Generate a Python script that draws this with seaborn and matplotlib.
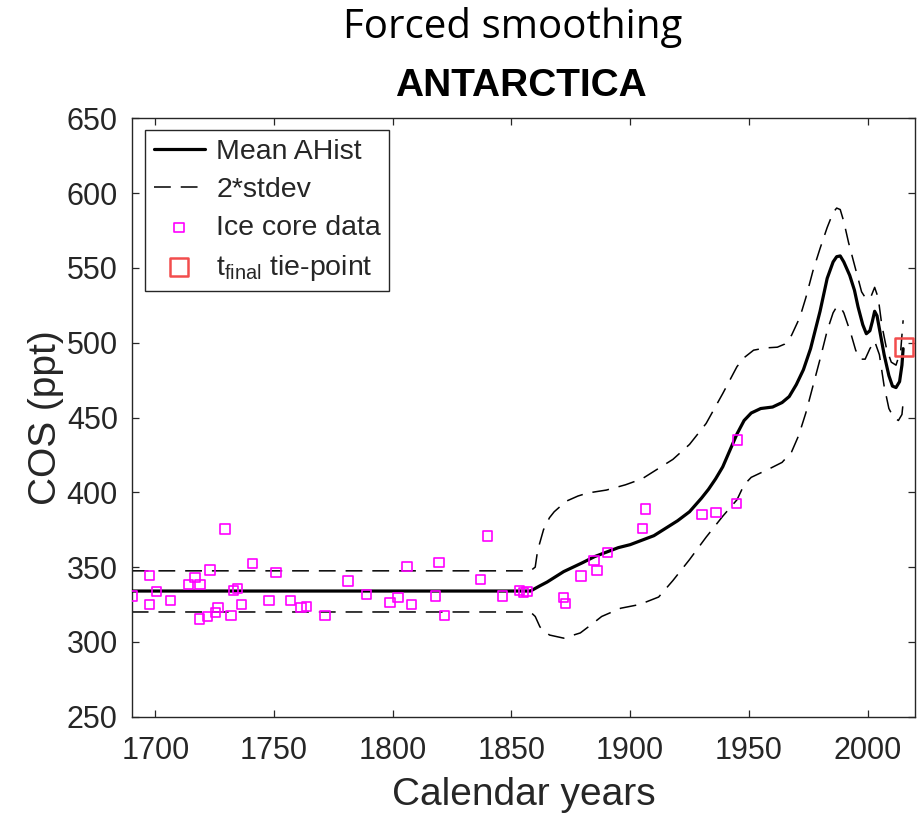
import numpy as np
import pandas as pd
import matplotlib
matplotlib.use("Agg")
import matplotlib.pyplot as plt
import seaborn as sns

# ---------------- data ----------------
mean_years = [1690, 1858, 1862, 1865, 1868, 1872, 1876, 1880, 1885, 1890, 1895,
              1900, 1905, 1910, 1915, 1920, 1925, 1930, 1933, 1936, 1939, 1942,
              1945, 1948, 1951, 1955, 1960, 1964, 1967, 1970, 1973, 1976, 1980,
              1983, 1985.5, 1987, 1988.5, 1990, 1992.5, 1994.5, 1996, 1998,
              1999.5, 2001, 2002, 2003, 2004, 2005.5, 2007, 2009, 2010.5, 2012,
              2013.5, 2014.5, 2015]
mean_vals = [334, 334, 337.5, 340, 343, 347, 350, 353, 357, 360, 363,
             365, 368, 371, 376, 381, 387, 396, 402, 409, 417, 428,
             439, 448, 453, 456, 457, 460, 464, 472, 482, 496, 521,
             543, 554, 557.5, 558, 554, 545, 535, 524, 512,
             506, 508, 514, 521, 518, 505, 492, 478, 471, 470,
             474, 485, 496]

upper_years = [1690, 1858, 1860, 1861, 1863.5, 1866, 1868, 1873, 1878, 1882, 1890,
               1898, 1905, 1911, 1918, 1925, 1932, 1939, 1942, 1945, 1948, 1952,
               1957, 1962, 1965, 1968, 1971.5, 1974, 1977, 1980, 1983, 1985.5,
               1987, 1988.5, 1990, 1992, 1995, 1997.5, 1999.5, 2001.5, 2003,
               2004.5, 2006, 2008, 2010, 2012, 2014, 2015]
upper_vals = [347.5, 347.5, 350, 361, 375, 383, 387, 394, 397.5, 399.5, 401.5,
              405, 409, 415, 422, 432, 446, 466, 475, 484, 490, 495,
              496.5, 497, 499, 505, 517, 530, 548, 563, 577, 587,
              590, 589, 581, 567, 549, 534, 529, 531, 537,
              530, 512, 496, 487, 485, 495, 515]

lower_years = [1690, 1858, 1860, 1862, 1866, 1872, 1879, 1884, 1888, 1896, 1904,
               1912, 1918, 1925, 1932, 1939, 1945, 1948, 1951, 1955, 1959, 1964,
               1968, 1971, 1974, 1977, 1980, 1983, 1985.5, 1987, 1988.5, 1990,
               1993, 1995, 1997, 1999, 2001, 2003, 2005, 2007, 2009, 2011, 2013,
               2014.5, 2015]
lower_vals = [320, 320, 317, 310, 304.6, 302.5, 306, 312, 317, 322.5, 325,
              330, 341, 355, 370, 384, 395, 405, 410, 413, 416, 420,
              427, 438, 453, 471, 489, 508, 520, 524, 524, 520,
              506, 495, 489, 489, 496, 501, 492, 471, 456, 450, 448,
              452, 460]

ice_years = [1690.4, 1697.4, 1697.4, 1700.5, 1706.4, 1713.9, 1716.7, 1718.8, 1718.5,
             1721.9, 1723.0, 1725.4, 1726.4, 1729.3, 1731.8, 1732.8, 1734.5, 1736.3,
             1740.8, 1747.9, 1750.8, 1756.8, 1761.3, 1763.7, 1771.5, 1781.1, 1789.0,
             1798.8, 1802.2, 1805.9, 1808.0, 1818.1, 1819.5, 1821.9, 1837.0, 1840.0,
             1846.2, 1853.5, 1855.0, 1856.5, 1871.9, 1872.8, 1879.2, 1884.8, 1886.0,
             1890.4, 1905.1, 1906.5, 1930.2, 1936.1, 1944.9, 1945.2]
ice_vals = [330.7, 344.3, 324.9, 333.6, 327.5, 338.2, 343.2, 338.2, 315.3,
            316.8, 348.0, 319.8, 323.1, 375.5, 317.5, 334.2, 335.8, 324.9,
            352.5, 327.5, 346.5, 327.5, 322.9, 323.5, 317.5, 340.7, 331.8,
            326.2, 329.8, 350.3, 324.9, 330.7, 352.9, 317.8, 341.8, 370.8,
            330.7, 334.5, 333.0, 333.5, 329.8, 325.8, 344.0, 354.3, 347.6,
            359.6, 375.7, 388.8, 385.3, 386.6, 392.6, 435.0]

tie_year = [2015.5]
tie_val = [497]

x_ticks = [1700, 1750, 1800, 1850, 1900, 1950, 2000]
y_ticks = [250, 300, 350, 400, 450, 500, 550, 600, 650]

labels = ["Mean AHist", "2*stdev", "Ice core data", r"t$_{\rm final}$ tie-point"]

# ---------------- style ----------------
sns.set_theme(style="ticks")
plt.rcParams["font.family"] = ["Liberation Sans", "DejaVu Sans"]
plt.rcParams["mathtext.fontset"] = "custom"
plt.rcParams["mathtext.rm"] = "Liberation Sans"
plt.rcParams["mathtext.it"] = "Liberation Sans:italic"
plt.rcParams["mathtext.bf"] = "Liberation Sans:bold"

W, H = 922, 816
fig = plt.figure(figsize=(W / 100, H / 100), dpi=100)
L, R, T, B = 131.7, 915, 118.3, 716.7
ax = fig.add_axes([L / W, 1 - B / H, (R - L) / W, (B - T) / H])

dark = "#262626"

df_mean = pd.DataFrame({"year": mean_years, "cos": mean_vals})
df_up = pd.DataFrame({"year": upper_years, "cos": upper_vals})
df_lo = pd.DataFrame({"year": lower_years, "cos": lower_vals})
df_ice = pd.DataFrame({"year": ice_years, "cos": ice_vals})
df_tie = pd.DataFrame({"year": tie_year, "cos": tie_val})

sns.lineplot(data=df_mean, x="year", y="cos", ax=ax, color="black", lw=2.3,
             estimator=None, sort=False, label=labels[0], zorder=3)
sns.lineplot(data=df_up, x="year", y="cos", ax=ax, color="black", lw=1.1,
             estimator=None, sort=False, label=labels[1], zorder=2,
             dashes=False)
sns.lineplot(data=df_lo, x="year", y="cos", ax=ax, color="black", lw=1.1,
             estimator=None, sort=False, zorder=2, dashes=False)
for ln in ax.get_lines()[1:3]:
    ln.set_dashes([11, 6.5])

sns.scatterplot(data=df_ice, x="year", y="cos", ax=ax, marker="s", s=46,
                fc="none", ec="#ff00ff", linewidth=1.2, label=labels[2], zorder=4)
sns.scatterplot(data=df_tie, x="year", y="cos", ax=ax, marker="s", s=170,
                fc="none", ec="#f24d4d", linewidth=1.8, label=labels[3], zorder=5,
                clip_on=False)
for coll in ax.collections:
    coll.set_facecolor("none")
ax.collections[0].set_edgecolor("#ff00ff")
ax.collections[1].set_edgecolor("#f24d4d")

ax.set_xlim(1690, 2020)
ax.set_ylim(250, 650)
ax.set_xticks(x_ticks)
ax.set_yticks(y_ticks)
ax.tick_params(axis="both", which="both", direction="in", length=5, width=0.9,
               colors=dark, labelsize=22, top=True, right=True)
ax.tick_params(axis="x", pad=14)
ax.tick_params(axis="y", pad=10)
for sp in ax.spines.values():
    sp.set_visible(True)
    sp.set_color(dark)
    sp.set_linewidth(1.0)

ax.set_xlabel("Calendar years", fontsize=28, color=dark, labelpad=8)
ax.set_ylabel("COS (ppt)", fontsize=28, color=dark, labelpad=2)

h, l = ax.get_legend_handles_labels()
leg = ax.legend(h, l, loc="upper left", bbox_to_anchor=(0.017, 0.98),
                fontsize=20.5, frameon=True, fancybox=False, framealpha=1,
                edgecolor=dark, borderpad=0.3, labelspacing=0.42,
                handlelength=1.8, handletextpad=0.4, borderaxespad=0)
leg.get_frame().set_linewidth(1.0)

fig.text(513 / W, 1 - 38 / H, "Forced smoothing", family="Open Sans",
         fontsize=29, ha="center", va="baseline", color="black")
fig.text(521 / W, 1 - 96 / H, "ANTARCTICA", fontsize=28, fontweight="bold",
         ha="center", va="baseline", color="black")

fig.savefig("out.png", dpi=100, facecolor="white")
